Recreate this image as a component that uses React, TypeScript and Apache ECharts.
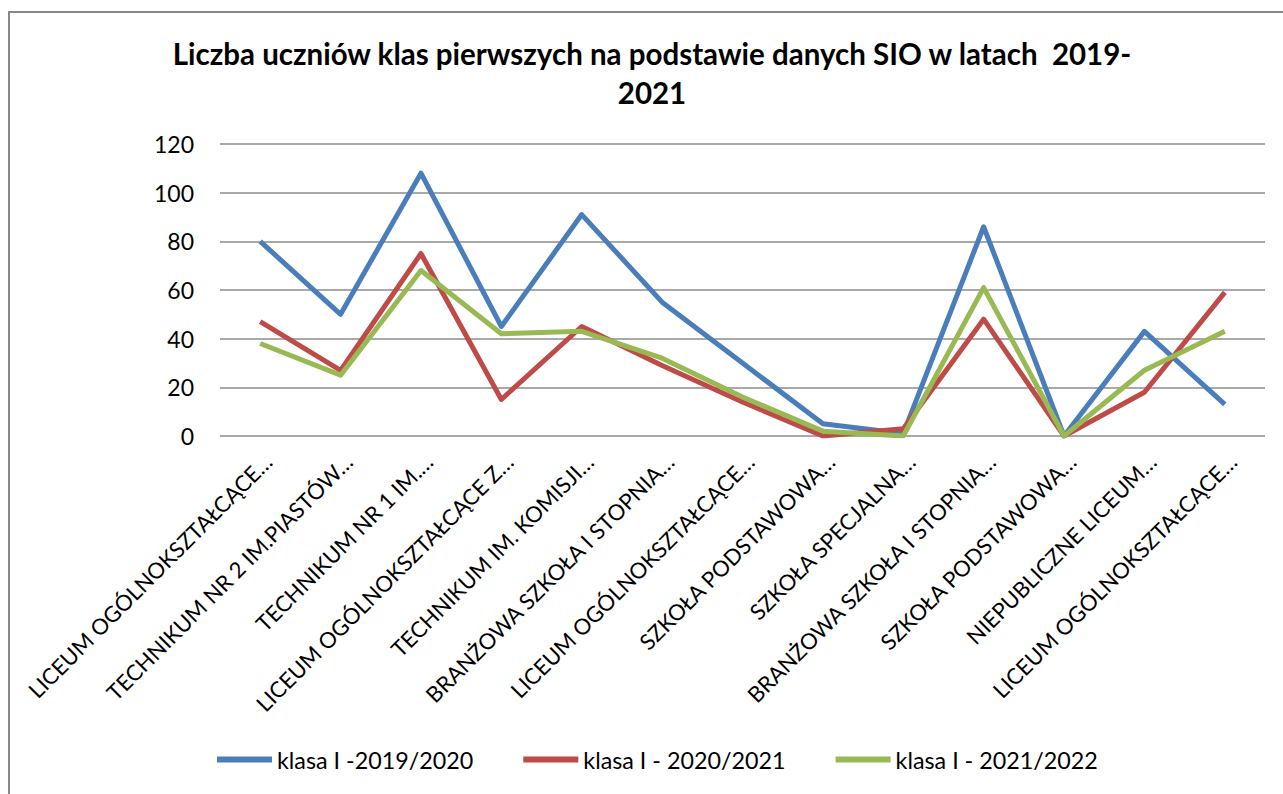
import React, { useEffect, useRef } from "react";
import * as echarts from "echarts";

const TITLE = "Liczba uczniów klas pierwszych na podstawie danych SIO w latach  2019-\n2021";

const CATEGORIES = [
  "LICEUM OGÓLNOKSZTAŁCĄCE…",
  "TECHNIKUM NR 2 IM.PIASTÓW…",
  "TECHNIKUM NR 1 IM.…",
  "LICEUM OGÓLNOKSZTAŁCĄCE Z…",
  "TECHNIKUM IM. KOMISJI…",
  "BRANŻOWA SZKOŁA I STOPNIA…",
  "LICEUM OGÓLNOKSZTAŁCĄCE…",
  "SZKOŁA PODSTAWOWA…",
  "SZKOŁA SPECJALNA…",
  "BRANŻOWA SZKOŁA I STOPNIA…",
  "SZKOŁA PODSTAWOWA…",
  "NIEPUBLICZNE LICEUM…",
  "LICEUM OGÓLNOKSZTAŁCĄCE…",
];

const SERIES_NAMES = ["klasa I -2019/2020", "klasa I - 2020/2021", "klasa I - 2021/2022"];

const KLASA_2019 = [80, 50, 108, 45, 91, 55, 30, 5, 1, 86, 0, 43, 13];
const KLASA_2020 = [47, 27, 75, 15, 45, 29, 14, 0, 3, 48, 0, 18, 59];
const KLASA_2021 = [38, 25, 68, 42, 43, 32, 16, 2, 0, 61, 0, 27, 43];

const COLORS = ["#4a7ebb", "#be4b48", "#98b954"];

const FONT = "Lato, 'Open Sans', sans-serif";

export default function App() {
  const ref = useRef<HTMLDivElement>(null);

  useEffect(() => {
    if (!ref.current) return;
    const chart = echarts.init(ref.current, undefined, { renderer: "svg" });
    const data = [KLASA_2019, KLASA_2020, KLASA_2021];
    chart.setOption({
      animation: false,
      backgroundColor: "#ffffff",
      textStyle: { fontFamily: FONT },
      graphic: [
        {
          type: "rect",
          shape: { x: 9, y: 12, width: 1400, height: 900 },
          style: { fill: "none", stroke: "#888888", lineWidth: 2 },
          silent: true,
        },
        {
          type: "text",
          x: 652,
          y: 34,
          style: {
            text: TITLE,
            fontFamily: FONT,
            fontSize: 29.5,
            fontWeight: "bold",
            fill: "#000000",
            align: "center",
            lineHeight: 39,
          },
        },
      ],
      legend: {
        left: 212,
        top: 743,
        itemWidth: 55,
        itemHeight: 6,
        itemGap: 50,
        icon: "rect",
        textStyle: { fontFamily: FONT, fontSize: 23.3, color: "#000000" },
        data: SERIES_NAMES,
      },
      grid: { left: 220, right: 18, top: 144, bottom: 358, containLabel: false },
      xAxis: {
        type: "category",
        data: CATEGORIES,
        boundaryGap: true,
        axisLine: { show: false },
        axisTick: { show: false },
        axisLabel: {
          interval: 0,
          rotate: 45,
          margin: 14,
          verticalAlign: "top",
          fontFamily: FONT,
          fontSize: 22,
          color: "#000000",
        },
      },
      yAxis: {
        type: "value",
        min: 0,
        max: 120,
        interval: 20,
        axisLine: { show: false },
        axisTick: { show: false },
        axisLabel: { margin: 26, fontFamily: FONT, fontSize: 23, color: "#000000" },
        splitLine: { lineStyle: { color: "#8c8c8c", width: 1.5 } },
      },
      series: SERIES_NAMES.map((name, i) => ({
        name,
        type: "line",
        data: data[i],
        symbol: "none",
        showSymbol: false,
        lineStyle: { color: COLORS[i], width: 5, join: "round" },
        itemStyle: { color: COLORS[i] },
      })),
    });
    return () => chart.dispose();
  }, []);

  return (
    <div
      ref={ref}
      style={{ position: "fixed", left: 0, top: 0, width: 1283, height: 794 }}
    />
  );
}
